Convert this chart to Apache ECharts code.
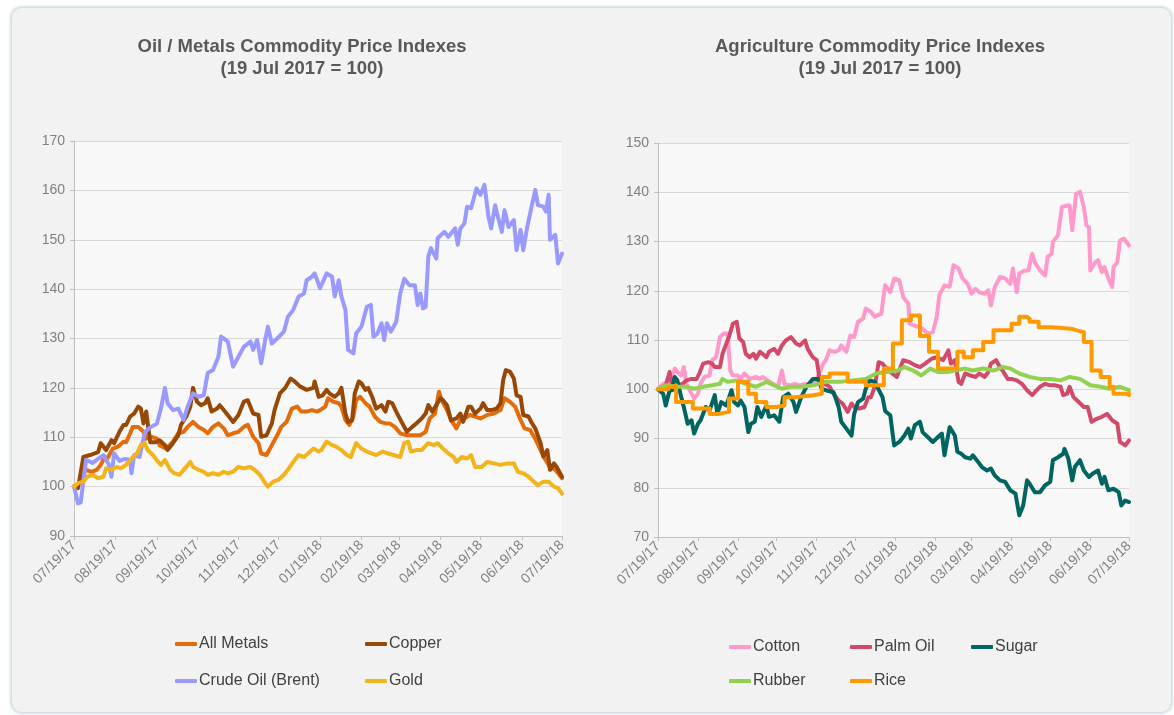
<!DOCTYPE html>
<html>
<head>
<meta charset="utf-8">
<title>Commodity Price Indexes</title>
<script src="https://cdn.jsdelivr.net/npm/echarts@6/dist/echarts.min.js"></script>
<style>
  html, body { margin: 0; padding: 0; background: #ffffff; width: 1174px; height: 715px; overflow: hidden; }
  #card {
    position: absolute; left: 11px; top: 7px; width: 1161px; height: 706px;
    background: #f2f2f2; border-radius: 11px; box-sizing: border-box;
    border: 1px solid #d3e0e5;
    box-shadow: 0 0 3px 1px rgba(170, 200, 210, 0.55);
  }
  #chart { position: absolute; left: 0; top: 0; width: 1174px; height: 715px; }
</style>
</head>
<body>
<div id="card"></div>
<div id="chart"></div>
<script>
// x positions are days since 19 Jul 2017 (index base date = 100)
const monthDays = [0, 31, 62, 92, 123, 153, 184, 215, 243, 274, 304, 335, 365];
const tickLabels = ['07/19/17', '08/19/17', '09/19/17', '10/19/17', '11/19/17', '12/19/17',
  '01/19/18', '02/19/18', '03/19/18', '04/19/18', '05/19/18', '06/19/18', '07/19/18'];

// ---- Oil / Metals ----
const allMetals = [[0,100],[4,100.7],[7,102.7],[9,103.4],[13,103],[17,103.4],[20,104.4],[23,106],[25,105.7],[29,107.7],[33,108.1],[37,109.1],[39,109],[42,110.8],[44,112.1],[48,112.1],[52,111.1],[54,109.7],[58,110.1],[62,109.7],[64,108.4],[69,107.7],[74,109.1],[78,110.8],[82,111.1],[85,112.1],[89,113.1],[93,112.1],[97,111.5],[100,110.8],[104,112.1],[108,112.8],[112,111.8],[115,110.4],[119,110.8],[123,111.1],[127,112.1],[130,112.5],[134,110.1],[138,108.8],[140,106.7],[144,106.4],[148,108.4],[152,110.4],[155,112.1],[159,113.1],[163,115.8],[167,116.2],[170,115.2],[174,115.2],[178,115.5],[182,115.2],[184,115.5],[188,116.2],[190,117.9],[194,117.2],[198,116.9],[200,116.2],[203,113.5],[206,112.5],[209,114.2],[211,117.5],[214,118.2],[218,116.9],[221,116.2],[225,114.2],[229,113.1],[233,112.8],[236,112.8],[240,112.1],[244,110.8],[249,110.4],[254,110.4],[259,110.4],[263,111.1],[266,113.8],[270,114.8],[273,119.2],[275,117.5],[279,115.5],[282,113.5],[286,111.8],[289,113.5],[292,113.8],[296,114.5],[300,114.2],[304,113.8],[309,114.5],[314,114.8],[319,115.5],[322,117.9],[326,117.2],[330,116.2],[334,113.5],[337,111.8],[341,111.5],[345,109.7],[349,107.4],[352,105.7],[356,104],[360,103.4],[365,101.7]];
const copper = [[0,100],[3,99.7],[7,106],[12,106.4],[18,107],[20,108.8],[24,107.4],[28,109.4],[30,108.8],[34,111.1],[37,112.5],[39,112.5],[42,114.2],[45,114.8],[48,116.2],[50,115.8],[52,112.8],[54,115.2],[57,109],[61,109],[64,109.4],[68,108.4],[70,107.4],[74,108.8],[78,110.4],[80,112.5],[84,114.2],[87,116.2],[89,120],[92,117.2],[95,116.5],[98,116.9],[100,117.9],[103,115.2],[107,115.8],[109,116.5],[112,115.5],[115,114.5],[119,113.1],[123,114.5],[127,117.2],[130,117.5],[134,114.8],[138,114.5],[140,110.1],[144,110.4],[148,112.8],[150,115.5],[154,118.9],[158,120],[162,121.9],[165,121.3],[169,120.3],[174,119.6],[179,120],[180,121.3],[183,118.2],[186,118.5],[189,119.6],[191,118.9],[195,118.2],[198,118.9],[200,120],[203,114.8],[205,113.1],[208,113.4],[210,118.9],[213,121.3],[215,120.9],[218,119.6],[220,120],[223,118.2],[226,115.8],[230,116.5],[233,115.2],[235,117.2],[238,116.9],[241,115.2],[245,113.1],[249,111.1],[253,112.1],[256,112.8],[260,113.8],[263,114.8],[265,116.5],[268,115.2],[271,116.5],[274,117.9],[276,117.5],[279,116.5],[282,113.4],[286,113.8],[289,114.8],[291,113.1],[295,116.2],[297,116.2],[300,114.8],[304,115.8],[306,116.9],[309,115.5],[312,115.5],[316,115.8],[319,116.9],[321,121.6],[323,123.6],[326,123.3],[329,121.9],[331,118.5],[334,118.2],[336,114.5],[340,114.2],[342,113.1],[345,111.8],[349,108.8],[351,106.1],[354,107.4],[356,103.4],[359,104.7],[361,104],[365,102]];
const crudeOil = [[0,100],[3,96.6],[5,96.8],[9,105.4],[14,104.8],[18,105.6],[22,106.4],[26,104.5],[28,102],[30,106.7],[34,105.2],[38,105.6],[42,105.4],[43,102.7],[45,106.4],[49,106],[53,111],[57,112],[62,112.8],[65,115.8],[68,120],[70,116.9],[74,115.5],[78,115.8],[82,113.5],[85,116.2],[89,118.9],[93,118.2],[97,118.5],[100,123],[104,123.6],[108,126.3],[110,130.4],[115,129.4],[119,124.3],[123,126.3],[127,128.3],[132,129.4],[134,127.7],[137,129.7],[140,125],[143,129.7],[145,132.4],[148,129],[152,130],[157,131.4],[160,134.4],[164,135.8],[168,138.5],[172,139.1],[174,141.8],[178,142.5],[180,143.2],[184,140.2],[189,143.2],[193,142.5],[195,138.5],[198,141.8],[200,138.5],[203,135.8],[205,127.7],[209,127],[211,131],[215,132.4],[219,136.4],[222,136.8],[224,130.4],[227,131],[230,133.1],[232,129.7],[234,133.1],[237,131.4],[241,133.4],[244,139.1],[247,142.1],[251,140.8],[255,140.8],[257,136.8],[259,139.1],[261,136.1],[263,136.4],[265,146.6],[267,148.3],[271,146.2],[272,150.3],[277,151.6],[280,150.6],[285,152.3],[287,149],[289,152.3],[292,153.3],[294,156.7],[297,156.4],[301,160.4],[304,159.1],[307,161.1],[310,154.7],[312,152.3],[315,157],[317,154.7],[320,151.6],[322,156],[325,152.6],[329,154],[331,147.9],[334,152],[336,147.9],[339,152.6],[342,156.4],[345,160.1],[347,157],[351,156.7],[353,155.7],[355,159.1],[356,150],[360,151],[362,145.2],[365,147.2]];
const gold = [[0,100],[3,100.7],[7,101],[10,102],[14,102.4],[18,101.7],[22,102],[24,103.7],[28,103.4],[32,104],[35,103.7],[39,104.4],[43,105.7],[47,106.7],[50,108.4],[53,108.8],[55,107.4],[59,106.4],[63,105],[65,104.4],[68,105.4],[72,103.4],[75,102.7],[79,102.4],[83,103.7],[87,105],[89,104],[93,103.4],[97,103],[100,102.4],[104,102.7],[108,102.4],[112,103],[115,102.7],[119,103],[123,104],[127,103.7],[132,104],[135,103.4],[139,102.4],[143,100.7],[145,100],[149,101],[153,101.4],[157,102.4],[160,103.4],[164,105],[168,106.4],[172,106],[175,106.7],[179,107.7],[183,107.1],[185,107.4],[189,109.1],[193,108.4],[196,108.1],[200,107.4],[204,106.4],[207,106],[211,108.8],[215,107.7],[219,107.1],[223,106.7],[226,106.4],[231,107.1],[235,106.7],[239,106.4],[244,106],[247,108.8],[250,109.1],[252,107.1],[256,107.4],[260,107.4],[265,108.8],[269,108.4],[272,108.8],[276,107.7],[280,106.7],[284,106],[286,105],[290,106],[294,105.7],[297,106.4],[300,104],[305,104],[309,105],[314,104.7],[319,104.4],[324,104.7],[329,104.7],[332,103],[336,102.7],[340,102],[344,101],[347,100.3],[351,101],[355,101],[359,100],[362,99.7],[365,98.6]];

// ---- Agriculture ----
const cotton = [[0,100],[4,101.1],[9,101.1],[13,104.2],[15,103.5],[18,102.8],[20,104.5],[22,101.1],[26,99.1],[28,98.1],[31,99.1],[33,101.1],[36,102.5],[40,102.8],[42,105.9],[45,106.5],[48,110.6],[51,111.3],[54,111.3],[56,103.8],[58,102.8],[62,102.8],[64,102.1],[67,103.2],[71,102.1],[76,102.5],[79,102.1],[81,102.5],[85,101.8],[89,101.1],[93,100.5],[96,103.8],[98,101.1],[102,100.8],[106,101.1],[110,100.8],[114,101.1],[118,100.8],[121,101.1],[125,103.2],[128,105.2],[130,105.9],[133,107.9],[137,107.6],[140,107.9],[142,108.9],[146,107.6],[149,110.9],[152,110.6],[155,113.7],[159,114.3],[161,116.4],[165,115.7],[168,114.7],[170,115],[173,115.3],[176,121.1],[180,119.7],[183,122.5],[187,122.1],[190,118.7],[194,117.4],[195,113.3],[198,113],[202,112.6],[205,112.3],[209,111.3],[213,111.6],[216,114.7],[218,119.1],[222,121.1],[226,120.8],[229,125.2],[233,124.5],[236,122.5],[240,121.4],[243,119.4],[246,120.4],[249,119.7],[253,119.4],[256,120.1],[258,117],[261,120.8],[265,122.8],[269,122.5],[273,121.4],[275,124.5],[278,119.7],[280,123.5],[284,124.1],[287,124.1],[290,127.5],[292,125.8],[296,124.1],[300,123.1],[302,126.9],[305,127.5],[306,129.9],[310,131.3],[313,137],[317,137.3],[319,137.3],[321,132.3],[324,139.7],[327,140.1],[330,137],[332,133.3],[334,132.9],[335,124.1],[339,125.8],[341,126.2],[344,123.8],[346,124.8],[349,122.5],[352,120.8],[353,124.8],[356,125.8],[358,130.2],[361,130.6],[365,129.2]];
const palmOil = [[0,100],[4,100.5],[6,100.8],[9,103.5],[11,100.8],[15,100.8],[19,101.1],[22,101.8],[26,102.1],[30,102.1],[32,103.2],[35,105.2],[39,105.5],[42,105.2],[44,104.5],[48,104.5],[50,107.2],[53,109.3],[55,110.6],[58,113.3],[61,113.7],[63,110.3],[66,109.6],[68,107.2],[71,106.5],[74,107.2],[76,106.2],[79,107.6],[81,107.2],[84,106.5],[86,107.6],[90,108.2],[93,107.2],[96,108.9],[99,109.9],[103,110.6],[107,109.3],[110,108.9],[114,109.9],[116,108.2],[120,106.5],[123,105.9],[125,102.5],[129,101.1],[133,100.5],[136,99.1],[140,97.7],[143,97.1],[147,95.4],[150,97.1],[152,96.4],[156,96.1],[160,96.4],[163,98.4],[165,98.4],[168,100.5],[171,105.5],[174,105.2],[177,104.2],[180,103.5],[185,102.5],[190,105.9],[195,105.5],[199,104.9],[203,104.5],[207,105.2],[212,106.2],[216,106.5],[221,105.9],[225,107.9],[227,105.2],[230,105.9],[233,101.5],[235,101.1],[238,103.2],[242,102.8],[246,102.5],[249,103.2],[253,102.5],[256,103.5],[258,105.2],[262,105.9],[265,104.5],[267,103.8],[271,102.1],[274,102.1],[278,101.8],[282,101.1],[286,99.8],[290,98.8],[292,99.4],[296,100.5],[300,101.1],[304,100.8],[308,100.8],[312,100.5],[314,98.8],[317,99.1],[319,100.5],[322,98.4],[326,97.4],[330,96.4],[333,96.4],[336,93.4],[340,94],[344,94.4],[348,95],[352,93.7],[356,93],[358,89.3],[362,88.6],[365,89.6]];
const sugar = [[0,100],[1,99.8],[4,99.1],[6,96.7],[9,99.8],[11,99.8],[13,102.5],[15,101.8],[18,98.4],[20,96.4],[23,93],[26,93.7],[28,91],[31,93],[33,93.7],[37,96.4],[40,95.7],[44,98.8],[46,95],[49,97.4],[53,96.7],[57,99.8],[59,97.4],[62,96.7],[64,97.7],[67,96.4],[70,91.3],[72,93],[75,93.4],[77,96.4],[80,94.4],[84,96.7],[86,94.4],[90,94.7],[94,93.4],[97,98.4],[101,99.1],[105,97.4],[107,95.4],[111,98.4],[115,100.5],[120,102.1],[124,102.1],[127,100.1],[130,99.8],[136,99.4],[140,96.4],[142,93.4],[146,92],[150,90.6],[152,95],[155,97.4],[159,98.1],[161,100.1],[164,101.8],[168,101.5],[172,99.4],[174,98.4],[176,95.6],[180,94.7],[183,88.6],[187,89.3],[191,90.6],[194,92],[196,90],[199,92.7],[203,93.4],[205,91.3],[209,90.3],[213,89.3],[217,90.3],[220,91],[222,86.6],[226,92.3],[230,90.6],[232,87.3],[235,86.9],[238,86.2],[242,85.9],[244,86.6],[247,85.6],[251,84.2],[255,83.5],[258,83.9],[261,82.5],[265,81.5],[269,81.2],[273,79.5],[277,78.8],[280,74.4],[283,76.4],[286,81.5],[288,80.8],[292,79.1],[296,79.1],[300,80.5],[304,81.2],[306,85.6],[310,86.2],[314,86.9],[315,87.9],[318,85.9],[321,81.5],[323,84.2],[327,85.6],[330,83.5],[334,82.2],[337,82.9],[341,83.5],[344,80.8],[346,82.2],[349,79.5],[353,79.8],[357,79.1],[359,76.4],[362,77.4],[365,77.1]];
const rubber = [[0,100],[6,100.8],[14,100.5],[22,100.5],[28,100.1],[35,100.5],[42,100.8],[48,101.1],[50,102.1],[54,101.5],[61,101.8],[68,101.1],[76,100.5],[84,101.5],[90,100.8],[96,100.1],[103,100.5],[112,100.5],[120,100.8],[130,101.5],[141,101.5],[151,101.8],[161,102.1],[169,103.2],[177,103.5],[186,103.8],[191,104.5],[198,103.8],[204,102.8],[211,104.2],[217,103.5],[224,103.5],[230,103.8],[238,104.2],[244,103.8],[252,104.2],[260,103.8],[267,104.5],[273,104.2],[280,103.2],[288,102.5],[296,102.1],[304,102.1],[312,101.8],[319,102.5],[327,102.1],[335,100.8],[343,100.5],[350,100.1],[358,100.5],[365,99.8]];
// rice moves in steps: each pair is [day of change, new level]
const rice = [[0,100],[8,100.5],[12,100.8],[14,97.4],[27,96.1],[40,95.0],[47,95.4],[55,98.1],[62,101.5],[70,99.1],[76,97.4],[84,96.4],[92,96.7],[98,98.4],[107,98.8],[120,99.1],[127,102.5],[133,103.2],[147,101.5],[161,100.8],[175,104.2],[182,109.3],[189,114.0],[196,115.0],[203,110.8],[210,107.6],[217,104.2],[232,107.6],[237,106.5],[244,107.9],[252,109.6],[260,112.0],[274,113.3],[280,114.7],[286,114.3],[288,113.7],[295,112.6],[305,112.3],[320,112.0],[324,111.6],[330,109.6],[336,103.8],[343,102.5],[350,100.5],[353,99.1],[365,98.8]];

const FONT = 'Arial, "Liberation Sans", Helvetica, sans-serif';
const AXIS_GREY = '#bfbfbf';
const LABEL_GREY = '#808080';

function xAxisFor(gridIndex) {
  return {
    type: 'value', gridIndex: gridIndex, min: 0, max: 365,
    axisLine: { show: true, lineStyle: { color: AXIS_GREY, width: 1 } },
    axisTick: { show: true, length: 4, customValues: monthDays, lineStyle: { color: AXIS_GREY } },
    axisLabel: {
      customValues: monthDays, rotate: 45, margin: 7,
      color: LABEL_GREY, fontSize: 14, fontFamily: FONT,
      formatter: function (v) { const i = monthDays.indexOf(Math.round(v)); return i >= 0 ? tickLabels[i] : ''; }
    },
    splitLine: { show: false }
  };
}
function yAxisFor(gridIndex, min, max) {
  return {
    type: 'value', gridIndex: gridIndex, min: min, max: max, interval: 10,
    axisLine: { show: true, lineStyle: { color: AXIS_GREY, width: 1 } },
    axisTick: { show: true, length: 4, lineStyle: { color: AXIS_GREY } },
    axisLabel: { color: LABEL_GREY, fontSize: 14, fontFamily: FONT, margin: 9 },
    splitLine: { show: true, lineStyle: { color: '#d9d9d9', width: 1 } }
  };
}
function lineSeries(name, data, color, axisIndex, extra) {
  return Object.assign({
    name: name, type: 'line', data: data,
    xAxisIndex: axisIndex, yAxisIndex: axisIndex,
    showSymbol: false, symbol: 'none', silent: true,
    lineStyle: { color: color, width: 4, join: 'round', cap: 'round' },
    itemStyle: { color: color }
  }, extra || {});
}
function legendItem(name, left, centerY) {
  return {
    data: [name], left: left, top: centerY - 9, orient: 'horizontal', padding: 0,
    icon: 'roundRect', itemWidth: 22, itemHeight: 4, selectedMode: false,
    textStyle: { color: '#404040', fontSize: 16, fontFamily: FONT, padding: [0, 0, 0, -3] }
  };
}

const chart = echarts.init(document.getElementById('chart'), null, { renderer: 'canvas' });
chart.setOption({
  animation: false,
  backgroundColor: 'transparent',
  title: [
    { text: 'Oil / Metals Commodity Price Indexes\n(19 Jul 2017 = 100)', left: 297, top: 31, textAlign: 'center',
      textStyle: { color: '#595959', fontSize: 18.5, fontWeight: 'bold', fontFamily: FONT, lineHeight: 22 } },
    { text: 'Agriculture Commodity Price Indexes\n(19 Jul 2017 = 100)', left: 875, top: 31, textAlign: 'center',
      textStyle: { color: '#595959', fontSize: 18.5, fontWeight: 'bold', fontFamily: FONT, lineHeight: 22 } }
  ],
  grid: [
    { left: 74, top: 141, width: 488, height: 395, show: true, backgroundColor: '#f8f8f8', borderWidth: 0, containLabel: false },
    { left: 658, top: 143, width: 471, height: 394, show: true, backgroundColor: '#f8f8f8', borderWidth: 0, containLabel: false }
  ],
  xAxis: [xAxisFor(0), xAxisFor(1)],
  yAxis: [yAxisFor(0, 90, 170), yAxisFor(1, 70, 150)],
  legend: [
    legendItem('All Metals', 175, 645),
    legendItem('Copper', 365, 645),
    legendItem('Crude Oil (Brent)', 175, 682),
    legendItem('Gold', 365, 682),
    legendItem('Cotton', 729, 648),
    legendItem('Palm Oil', 850, 648),
    legendItem('Sugar', 971, 648),
    legendItem('Rubber', 729, 682),
    legendItem('Rice', 850, 682)
  ],
  series: [
    lineSeries('All Metals', allMetals, '#e46c0a', 0),
    lineSeries('Copper', copper, '#974806', 0),
    lineSeries('Crude Oil (Brent)', crudeOil, '#9999ff', 0),
    lineSeries('Gold', gold, '#f2b31b', 0),
    lineSeries('Cotton', cotton, '#ff99cc', 1),
    lineSeries('Palm Oil', palmOil, '#d24a6a', 1),
    lineSeries('Sugar', sugar, '#006460', 1),
    lineSeries('Rubber', rubber, '#92d050', 1),
    lineSeries('Rice', rice, '#ff9900', 1, { step: 'end' })
  ]
});
</script>
</body>
</html>
